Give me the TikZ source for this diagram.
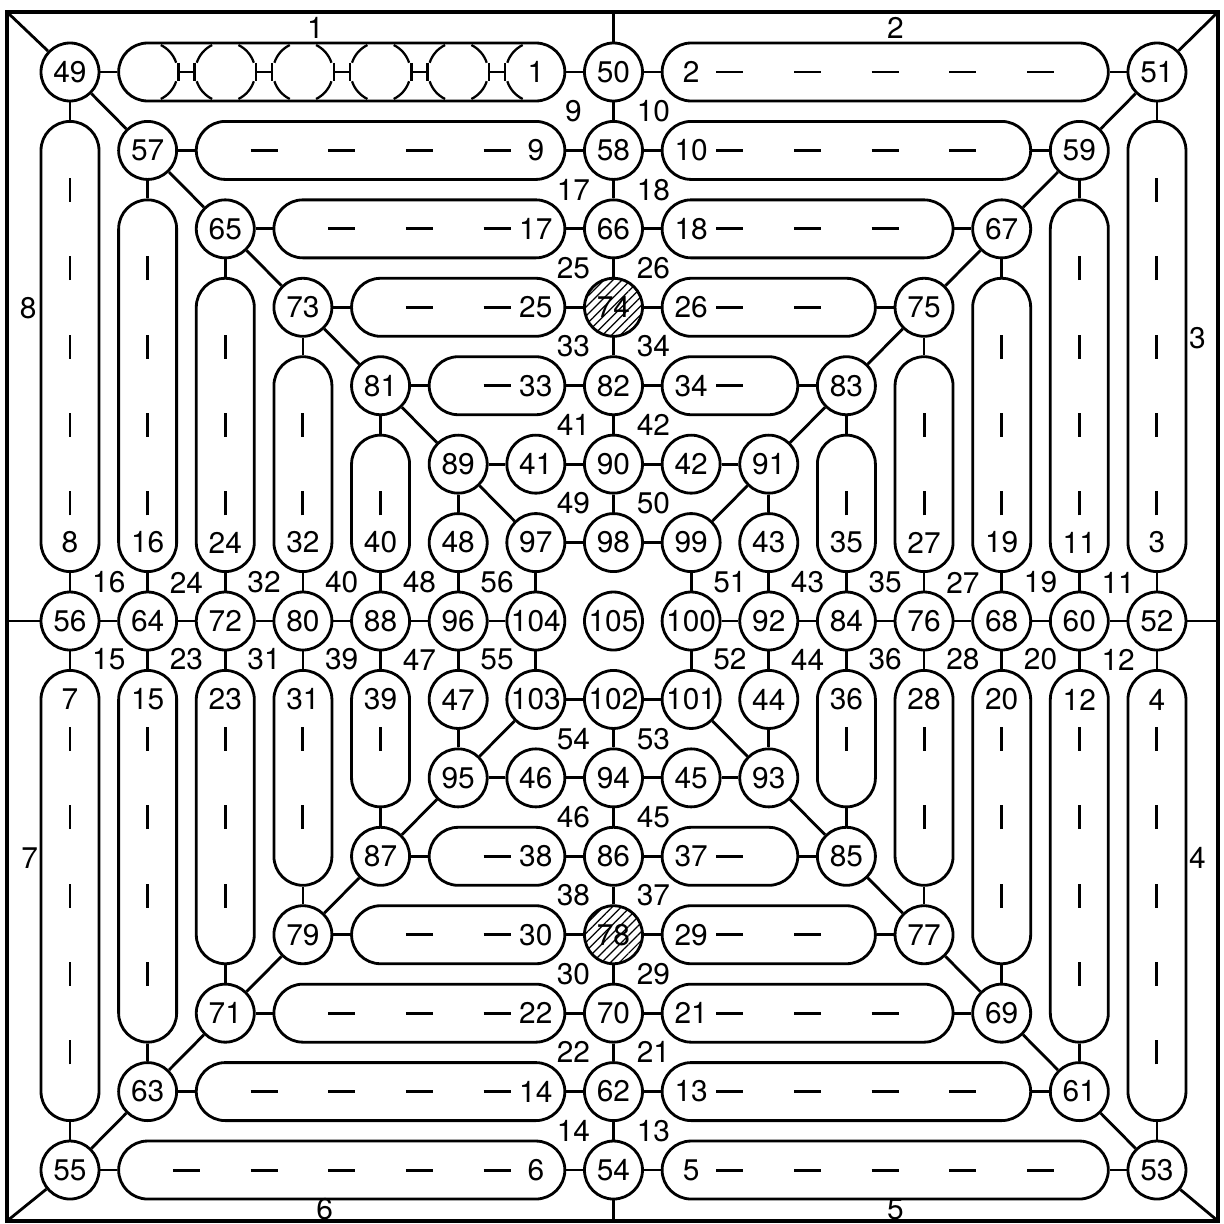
\documentclass[tikz,border=0pt]{standalone}
\usepackage{fontspec}
\setmainfont{TeX Gyre Heros}
\usetikzlibrary{patterns.meta}

\begin{document}
\begin{tikzpicture}[
    x=1.5528cm, y=-1.5686cm,
    line width=1.6pt,
    font=\fontsize{17}{20}\selectfont,
    site/.style={circle, draw, minimum size=1.16cm, inner sep=0pt},
    hatched/.style={pattern={Lines[angle=45, distance=3.6pt, line width=0.7pt]}},
    nohatch/.style={},
    hcap/.style={rectangle, draw, rounded corners=0.58cm, inner sep=0pt, minimum height=1.16cm, minimum width={(#1-1)*1.5528cm+1.16cm}},
    vcap/.style={rectangle, draw, rounded corners=0.58cm, inner sep=0pt, minimum width=1.16cm, minimum height={(#1-1)*1.5686cm+1.16cm}},
    num/.style={inner sep=0pt},
    bond/.style={line width=1.7pt},
    chain/.style={line width=1.3pt},
    frame/.style={line width=1.9pt}
]

% Board outline
\useasboundingbox (-1.4cm,1.44cm) rectangle (23.08cm,-23.04cm);
\coordinate (fTL) at (-1.26cm,1.2cm);
\coordinate (fBR) at (22.96cm,-22.98cm);
\coordinate (fTR) at (fBR |- fTL);
\coordinate (fBL) at (fTL |- fBR);
\draw[frame] (fTL) rectangle (fBR);

% Sites of the seven rings
\foreach \k in {0,...,6}{
  \pgfmathtruncatemacro\rim{14-\k}
  \pgfmathtruncatemacro\nA{49+8*\k}
  \pgfmathtruncatemacro\nB{50+8*\k}
  \pgfmathtruncatemacro\nC{51+8*\k}
  \pgfmathtruncatemacro\nD{52+8*\k}
  \pgfmathtruncatemacro\nE{53+8*\k}
  \pgfmathtruncatemacro\nF{54+8*\k}
  \pgfmathtruncatemacro\nG{55+8*\k}
  \pgfmathtruncatemacro\nH{56+8*\k}
  \ifnum\k=3 \def\hatch{hatched}\else\def\hatch{nohatch}\fi
  \node[site] (n\nA) at (\k,\k) {\nA};
  \node[site, \hatch] (n\nB) at (7,\k) {\nB};
  \node[site] (n\nC) at (\rim,\k) {\nC};
  \node[site] (n\nD) at (\rim,7) {\nD};
  \node[site] (n\nE) at (\rim,\rim) {\nE};
  \node[site, \hatch] (n\nF) at (7,\rim) {\nF};
  \node[site] (n\nG) at (\k,\rim) {\nG};
  \node[site] (n\nH) at (\k,7) {\nH};
}
\node[site] (n105) at (7,7) {105};

% Capsules on the sides of the rings
\foreach \k in {0,...,5}{
  \pgfmathtruncatemacro\rim{14-\k}
  \pgfmathtruncatemacro\nsite{6-\k}
  \pgfmathsetmacro\cLo{(\k+7)/2}
  \pgfmathsetmacro\cHi{(21-\k)/2}
  \pgfmathtruncatemacro\cA{8*\k+1}
  \pgfmathtruncatemacro\cB{8*\k+2}
  \pgfmathtruncatemacro\cC{8*\k+3}
  \pgfmathtruncatemacro\cD{8*\k+4}
  \pgfmathtruncatemacro\cE{8*\k+5}
  \pgfmathtruncatemacro\cF{8*\k+6}
  \pgfmathtruncatemacro\cG{8*\k+7}
  \pgfmathtruncatemacro\cH{8*\k+8}
  \node[hcap=\nsite] (c\cA) at (\cLo,\k) {};
  \node[hcap=\nsite] (c\cB) at (\cHi,\k) {};
  \node[vcap=\nsite] (c\cC) at (\rim,\cLo) {};
  \node[vcap=\nsite] (c\cD) at (\rim,\cHi) {};
  \node[hcap=\nsite] (c\cE) at (\cHi,\rim) {};
  \node[hcap=\nsite] (c\cF) at (\cLo,\rim) {};
  \node[vcap=\nsite] (c\cG) at (\k,\cHi) {};
  \node[vcap=\nsite] (c\cH) at (\k,\cLo) {};
  % numbers beside the spokes
  \node[num] (t\cA) at (6,\k) {\cA};
  \node[num] (t\cB) at (8,\k) {\cB};
  \node[num] (t\cC) at (\rim,6) {\cC};
  \node[num] (t\cD) at (\rim,8) {\cD};
  \node[num] (t\cE) at (8,\rim) {\cE};
  \node[num] (t\cF) at (6,\rim) {\cF};
  \node[num] (t\cG) at (\k,8) {\cG};
  \node[num] (t\cH) at (\k,6) {\cH};
}

% Bonds inside the capsules
\foreach \k in {0,...,4}{
  \pgfmathtruncatemacro\rim{14-\k}
  \foreach \j in {\k,...,4}{
    \pgfmathsetmacro\bp{\j+1.5}
    \pgfmathsetmacro\bq{12.5-\j}
    \ifnum\k>0 \draw[bond] (\bp,\k) ++(-0.27cm,0cm) -- ++(0.54cm,0cm); \fi
    \draw[bond] (\bq,\k) ++(-0.27cm,0cm) -- ++(0.54cm,0cm);
    \draw[bond] (\bp,\rim) ++(-0.27cm,0cm) -- ++(0.54cm,0cm);
    \draw[bond] (\bq,\rim) ++(-0.27cm,0cm) -- ++(0.54cm,0cm);
    \draw[bond] (\k,\bp) ++(0cm,-0.24cm) -- ++(0cm,0.48cm);
    \draw[bond] (\k,\bq) ++(0cm,-0.24cm) -- ++(0cm,0.48cm);
    \draw[bond] (\rim,\bp) ++(0cm,-0.24cm) -- ++(0cm,0.48cm);
    \draw[bond] (\rim,\bq) ++(0cm,-0.24cm) -- ++(0cm,0.48cm);
  }
}

% First capsule: chain of rings
\foreach \j in {1,...,5}{
  \draw[chain] (\j,0) ++(18:0.6cm) arc[start angle=18, end angle=64, radius=0.6cm];
  \draw[chain] (\j,0) ++(-18:0.6cm) arc[start angle=-18, end angle=-64, radius=0.6cm];
  \draw[chain] (\j+1,0) ++(162:0.6cm) arc[start angle=162, end angle=116, radius=0.6cm];
  \draw[chain] (\j+1,0) ++(-162:0.6cm) arc[start angle=-162, end angle=-116, radius=0.6cm];
  \draw[chain] (\j+0.5,0) ++(-0.16cm,0cm) -- ++(0.32cm,0cm)
        (\j+0.5,0) ++(-0.16cm,0.18cm) -- ++(0cm,-0.36cm)
        (\j+0.5,0) ++(0.16cm,0.18cm) -- ++(0cm,-0.36cm);
}

% Links along each ring
\foreach \k in {0,...,5}{
  \pgfmathtruncatemacro\nA{49+8*\k}
  \pgfmathtruncatemacro\nB{50+8*\k}
  \pgfmathtruncatemacro\nC{51+8*\k}
  \pgfmathtruncatemacro\nD{52+8*\k}
  \pgfmathtruncatemacro\nE{53+8*\k}
  \pgfmathtruncatemacro\nF{54+8*\k}
  \pgfmathtruncatemacro\nG{55+8*\k}
  \pgfmathtruncatemacro\nH{56+8*\k}
  \pgfmathtruncatemacro\cA{8*\k+1}
  \pgfmathtruncatemacro\cB{8*\k+2}
  \pgfmathtruncatemacro\cC{8*\k+3}
  \pgfmathtruncatemacro\cD{8*\k+4}
  \pgfmathtruncatemacro\cE{8*\k+5}
  \pgfmathtruncatemacro\cF{8*\k+6}
  \pgfmathtruncatemacro\cG{8*\k+7}
  \pgfmathtruncatemacro\cH{8*\k+8}
  \draw (n\nA) -- (c\cA) -- (n\nB) -- (c\cB) -- (n\nC) -- (c\cC) -- (n\nD) -- (c\cD) -- (n\nE)
        -- (c\cE) -- (n\nF) -- (c\cF) -- (n\nG) -- (c\cG) -- (n\nH) -- (c\cH) -- (n\nA);
}
\draw (n97) -- (n98) -- (n99) -- (n100) -- (n101) -- (n102) -- (n103) -- (n104) -- (n97);

% Spokes and diagonals between neighbouring rings
\foreach \k in {0,...,5}{
  \pgfmathtruncatemacro\nA{49+8*\k}
  \pgfmathtruncatemacro\nB{50+8*\k}
  \pgfmathtruncatemacro\nC{51+8*\k}
  \pgfmathtruncatemacro\nD{52+8*\k}
  \pgfmathtruncatemacro\nE{53+8*\k}
  \pgfmathtruncatemacro\nF{54+8*\k}
  \pgfmathtruncatemacro\nG{55+8*\k}
  \pgfmathtruncatemacro\nH{56+8*\k}
  \pgfmathtruncatemacro\oA{\nA+8}
  \pgfmathtruncatemacro\oB{\nB+8}
  \pgfmathtruncatemacro\oC{\nC+8}
  \pgfmathtruncatemacro\oD{\nD+8}
  \pgfmathtruncatemacro\oE{\nE+8}
  \pgfmathtruncatemacro\oF{\nF+8}
  \pgfmathtruncatemacro\oG{\nG+8}
  \pgfmathtruncatemacro\oH{\nH+8}
  \pgfmathtruncatemacro\lA{8*\k+9}
  \pgfmathtruncatemacro\lB{8*\k+10}
  \pgfmathtruncatemacro\lC{8*\k+11}
  \pgfmathtruncatemacro\lD{8*\k+12}
  \pgfmathtruncatemacro\lE{8*\k+13}
  \pgfmathtruncatemacro\lF{8*\k+14}
  \pgfmathtruncatemacro\lG{8*\k+15}
  \pgfmathtruncatemacro\lH{8*\k+16}
  \draw (n\nB) -- (n\oB) node[num, midway, xshift=-0.8cm] (s\lA) {\lA} node[num, midway, xshift=0.8cm] (s\lB) {\lB};
  \draw (n\nD) -- (n\oD) node[num, midway, yshift=0.77cm] (s\lC) {\lC} node[num, midway, yshift=-0.77cm] (s\lD) {\lD};
  \draw (n\nF) -- (n\oF) node[num, midway, xshift=-0.8cm] (s\lF) {\lF} node[num, midway, xshift=0.8cm] (s\lE) {\lE};
  \draw (n\nH) -- (n\oH) node[num, midway, yshift=0.77cm] (s\lH) {\lH} node[num, midway, yshift=-0.77cm] (s\lG) {\lG};
  \draw (n\nA) -- (n\oA);
  \draw (n\nC) -- (n\oC);
  \draw (n\nE) -- (n\oE);
  \draw (n\nG) -- (n\oG);
}

% Ties to the outline
\coordinate (fT) at (n50 |- fTL);
\coordinate (fB) at (n54 |- fBR);
\coordinate (fL) at (fTL |- n56);
\coordinate (fR) at (fBR |- n52);
\draw (fTL) -- (n49);
\draw (fTR) -- (n51);
\draw (fBR) -- (n53);
\draw (fBL) -- (n55);
\draw (fT) -- (n50);
\draw (fR) -- (n52);
\draw (fB) -- (n54);
\draw (fL) -- (n56);

% Side numbers
\node[num] (o1) at (3.16,-0.56) {1};
\node[num] (o2) at (10.63,-0.56) {2};
\node[num] (o3) at (14.52,3.39) {3};
\node[num] (o4) at (14.52,10.02) {4};
\node[num] (o5) at (10.63,14.5) {5};
\node[num] (o6) at (3.28,14.5) {6};
\node[num] (o7) at (-0.52,10.02) {7};
\node[num] (o8) at (-0.54,3.01) {8};

\end{tikzpicture}
\end{document}
